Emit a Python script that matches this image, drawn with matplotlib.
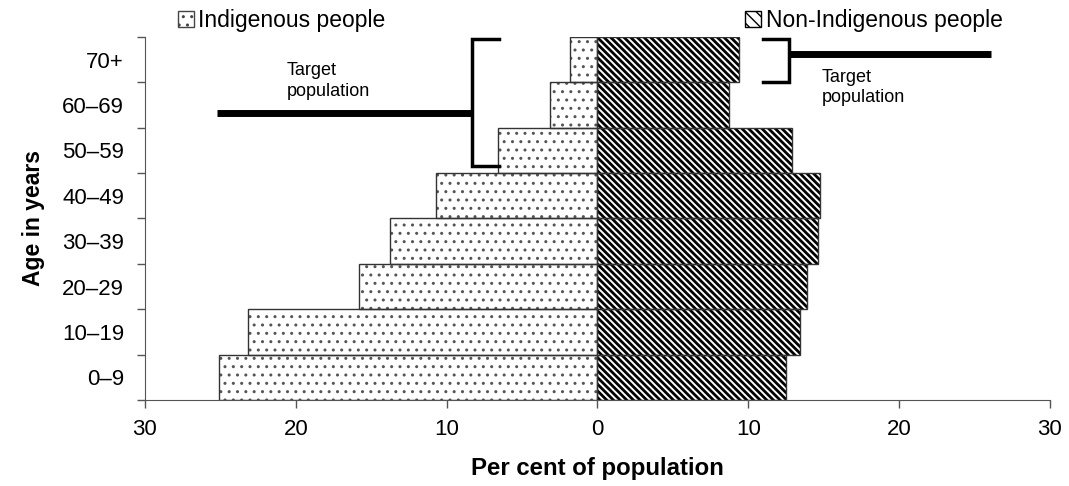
import numpy as np
import matplotlib
import matplotlib.pyplot as plt
from matplotlib.patches import Patch

matplotlib.rcParams['font.family'] = ['Liberation Sans', 'DejaVu Sans']

# Age groups, bottom to top
age_groups = ['0–9', '10–19', '20–29', '30–39', '40–49', '50–59', '60–69', '70+']
# Per cent of population in each age group
indigenous = [25.1, 23.2, 15.8, 13.75, 10.7, 6.6, 3.15, 1.85]
non_indigenous = [12.5, 13.4, 13.9, 14.6, 14.75, 12.9, 8.75, 9.4]
x_ticks = [-30, -20, -10, 0, 10, 20, 30]

dots = '..'
stripes = '\\' * 5


def hatch_lw(artists, lw):
    # per-artist hatch line width (matplotlib >= 3.10)
    for a in artists:
        if hasattr(a, 'set_hatch_linewidth'):
            a.set_hatch_linewidth(lw)


fig = plt.figure(figsize=(10.69, 4.86), dpi=100)
ax = fig.add_axes([0.1356, 0.177, 0.8466, 0.747])

y = np.arange(len(age_groups))
# hatch first (grey dots / black stripes), then the outlines on top
with matplotlib.rc_context({'hatch.linewidth': 1.0}):
    b1 = ax.barh(y, -np.array(indigenous), height=1.0, color='white', edgecolor='#555555',
                 hatch=dots, linewidth=0)
hatch_lw(b1, 1.0)
with matplotlib.rc_context({'hatch.linewidth': 2.0}):
    b2 = ax.barh(y, non_indigenous, height=1.0, color='white', edgecolor='black',
                 hatch=stripes, linewidth=0)
hatch_lw(b2, 2.0)
ax.barh(y, -np.array(indigenous), height=1.0, fill=False, edgecolor='#333333', linewidth=1.0)
ax.barh(y, non_indigenous, height=1.0, fill=False, edgecolor='#333333', linewidth=1.0)

ax.set_xlim(-30, 30)
ax.set_ylim(-0.5, len(age_groups) - 0.5)
ax.set_xticks(x_ticks)
ax.set_xticklabels([str(abs(v)) for v in x_ticks])
ax.set_yticks(np.arange(-0.5, len(age_groups), 1.0))
ax.set_yticklabels([])
ax.set_yticks(y, minor=True)
ax.set_yticklabels(age_groups, minor=True)
ax.tick_params(axis='y', which='minor', length=0, pad=15, labelsize=16)
ax.tick_params(axis='y', which='major', length=6, width=1, color='#555555')
ax.tick_params(axis='x', length=6, width=1, color='#555555', labelsize=16, pad=8)
for s in ['top', 'right']:
    ax.spines[s].set_visible(False)
for s in ['left', 'bottom']:
    ax.spines[s].set_color('#555555')

ax.set_xlabel('Per cent of population', fontsize=17.3, fontweight='bold', labelpad=12)
ax.set_ylabel('Age in years', fontsize=16.5, fontweight='bold', labelpad=12)

# Target population brackets (left: ages 50+, right: 70+)
ax.plot([-6.56, -8.3, -8.3, -6.56], [7.456, 7.456, 4.657, 4.657], color='black', lw=2.5,
        solid_joinstyle='miter', clip_on=False)
ax.plot([-25.2, -8.3], [5.825, 5.825], color='black', lw=5, solid_capstyle='butt')
ax.text(-20.6, 6.53, 'Target\npopulation', fontsize=13, ha='left', va='center', linespacing=1.25)

ax.plot([11.0, 12.67, 12.67, 11.0], [7.456, 7.456, 6.5, 6.5], color='black', lw=2.5,
        solid_joinstyle='miter', clip_on=False)
ax.plot([12.67, 26.1], [7.12, 7.12], color='black', lw=5, solid_capstyle='butt')
ax.text(14.85, 6.38, 'Target\npopulation', fontsize=13, ha='left', va='center', linespacing=1.25)

# Legends
with matplotlib.rc_context({'hatch.linewidth': 1.0}):
    h1 = Patch(facecolor='white', edgecolor='#444444', hatch=dots, linewidth=1, label='Indigenous people')
with matplotlib.rc_context({'hatch.linewidth': 1.5}):
    h2 = Patch(facecolor='white', edgecolor='black', hatch='\\' * 3, linewidth=1,
               label='Non-Indigenous people')
leg1 = fig.legend(handles=[h1], loc='center left', bbox_to_anchor=(0.1555, 0.958), frameon=False,
                  fontsize=16.5, handlelength=0.7, handleheight=0.7, handletextpad=0.2, borderpad=0)
leg2 = fig.legend(handles=[h2], loc='center left', bbox_to_anchor=(0.6865, 0.958), frameon=False,
                  fontsize=16.5, handlelength=0.7, handleheight=0.7, handletextpad=0.2, borderpad=0)

plt.savefig('out.png', dpi=100)
